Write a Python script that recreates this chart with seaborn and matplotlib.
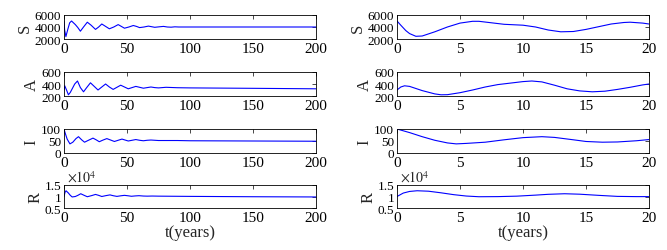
import numpy as np
import pandas as pd
import matplotlib
matplotlib.use("Agg")
import matplotlib.pyplot as plt
import seaborn as sns
from matplotlib.ticker import FuncFormatter

sns.set_theme(style="white")
plt.rcParams['font.family'] = ['Liberation Serif', 'DejaVu Serif']
plt.rcParams['mathtext.fontset'] = 'stix'

# ---------------- data: long horizon (0-200 years) ----------------
t_S_long = [0, 0.5, 1.5, 3, 4.5, 6, 7.5, 9, 11, 13, 15.5, 18.5, 21.5, 25, 27.5, 30, 33, 36,
            39.5, 43, 45.5, 48, 51.5, 55, 57.5, 60, 63.5, 67, 69.5, 72, 75.5, 79, 82, 85,
            88, 91, 95, 100, 150, 200]
S_long = [5000, 3500, 2400, 3600, 4700, 5000, 4700, 4400, 3900, 3300, 4000, 4800, 4300,
          3600, 4000, 4500, 4100, 3700, 4000, 4400, 4100, 3800, 4000, 4250, 4100, 3900,
          4000, 4150, 4050, 3950, 4030, 4100, 4000, 3970, 4030, 4000, 4000, 4000, 4000, 4000]

t_A_long = [0, 0.6, 2, 3.5, 5, 7, 8.5, 10.7, 13, 15.5, 18, 21, 24, 27, 30, 33, 36, 39, 42,
            45, 48, 51, 54, 57, 60, 63, 66, 69, 72, 75, 78, 81, 90, 100, 150, 200]
A_long = [300, 370, 300, 220, 260, 340, 400, 450, 340, 270, 340, 420, 360, 300, 350, 400,
          350, 310, 345, 380, 350, 320, 340, 360, 345, 330, 340, 350, 340, 335, 340, 345,
          338, 335, 328, 320]

t_I_long = [0, 1, 2.5, 4.7, 7, 9.5, 11.5, 14, 16.3, 19, 23, 25.5, 28, 31, 34, 37, 40, 43,
            46, 48.5, 51, 54, 57, 60, 63, 66, 69, 72, 75, 80, 90, 100, 150, 200]
I_long = [100, 82, 58, 38, 45, 60, 68, 55, 45, 52, 62, 55, 47, 54, 60, 54, 48, 53, 58, 54,
          50, 53, 56, 53, 51, 53, 54, 53, 52, 52, 52, 51, 50, 49]

t_R_long = [0, 0.8, 1.6, 3.5, 5, 6.5, 9, 11, 13.3, 16, 18.5, 22, 25, 27.5, 30, 33, 36.5, 39,
            42, 45, 48, 51, 53.5, 56.5, 59.5, 63, 66, 70, 75, 100, 150, 200]
R_long = [10000, 11800, 12500, 11500, 10500, 9800, 10000, 10500, 11200, 10500, 9900, 10400,
          10900, 10500, 10000, 10350, 10700, 10350, 10050, 10300, 10500, 10300, 10100, 10250,
          10350, 10200, 10150, 10200, 10150, 10050, 9900, 9800]

# ---------------- data: short horizon (0-20 years) ----------------
t_S_short = [0, 0.3, 0.7, 1.0, 1.5, 2, 3, 4, 5, 6, 6.5, 7.5, 8.5, 10, 11, 12, 13, 14, 15,
             16, 17, 18, 18.5, 19.5, 20]
S_short = [5000, 4300, 3400, 2900, 2450, 2500, 3200, 4000, 4650, 4950, 4950, 4700, 4450,
           4300, 4000, 3500, 3200, 3250, 3600, 4050, 4500, 4750, 4800, 4650, 4500]

t_A_short = [0, 0.3, 0.6, 1, 2, 3, 3.5, 4, 5, 6, 7, 8, 9, 10, 10.7, 11.5, 12.5, 13.5, 14.5,
             15.5, 16.5, 17.5, 18.5, 19.5, 20]
A_short = [300, 350, 370, 360, 290, 235, 220, 222, 255, 300, 350, 390, 415, 440, 450, 435,
           380, 320, 285, 270, 280, 310, 345, 385, 400]

t_I_short = [0, 1, 2, 3, 4, 4.7, 5.5, 7, 8.5, 10, 11.5, 12.5, 14, 15, 16.3, 17.5, 19, 20]
I_short = [100, 85, 68, 53, 42, 38, 40, 45, 55, 64, 68, 65, 55, 48, 45, 46, 51, 56]

t_R_short = [0, 0.5, 1, 1.6, 2.5, 3.5, 4.5, 5.5, 6.5, 8, 9.5, 11, 12, 13.3, 14.5, 16, 17.5,
             19, 20]
R_short = [10000, 11500, 12200, 12500, 12300, 11600, 10800, 10200, 9900, 9950, 10150, 10600,
           10950, 11200, 11000, 10500, 10050, 9950, 9950]

labels = ["S", "A", "I", "R"]
yticks = [[2000, 4000, 6000], [200, 400, 600], [0, 50, 100], [5000, 10000, 15000]]
ylims = [(2000, 6000), (200, 600), (0, 100), (5000, 15000)]
long_sets = [(t_S_long, S_long), (t_A_long, A_long), (t_I_long, I_long), (t_R_long, R_long)]
short_sets = [(t_S_short, S_short), (t_A_short, A_short), (t_I_short, I_short),
              (t_R_short, R_short)]

W, H = 667, 251
fig = plt.figure(figsize=(W / 100, H / 100), dpi=100)

rows_px = [(16, 40), (73, 97), (130, 154), (186, 209)]
cols_px = [(64, 316), (397, 649)]

for c, (sets, xmax, xt) in enumerate([(long_sets, 200, [0, 50, 100, 150, 200]),
                                       (short_sets, 20, [0, 5, 10, 15, 20])]):
    x0, x1 = cols_px[c]
    for r in range(4):
        y0, y1 = rows_px[r]
        ax = fig.add_axes([x0 / W, 1 - y1 / H, (x1 - x0) / W, (y1 - y0) / H])
        t, v = sets[r]
        df = pd.DataFrame({"t": t, "v": v})
        sns.lineplot(data=df, x="t", y="v", ax=ax, color="#0000ff", linewidth=0.8)
        ax.set_xlim(0, xmax)
        ax.set_ylim(*ylims[r])
        ax.set_xticks(xt)
        ax.set_yticks(yticks[r])
        ax.set_ylabel(labels[r], fontsize=12, labelpad=1)
        ax.set_xlabel("")
        ax.tick_params(direction="in", length=3, width=0.5, top=True, right=True,
                       labelsize=11, pad=2, colors="black")
        ax.tick_params(axis="y", labelsize=9.5)
        for s in ax.spines.values():
            s.set_linewidth(0.6)
            s.set_color("black")
        if r == 3:
            ax.yaxis.set_major_formatter(FuncFormatter(lambda val, pos: f"{val / 1e4:g}"))
            ax.text(0.01, 1.02, r"$\times 10^4$", transform=ax.transAxes, fontsize=10,
                    ha="left", va="bottom")
            ax.set_xlabel("t(years)", fontsize=12, labelpad=0)

fig.savefig("out.png", dpi=100)
